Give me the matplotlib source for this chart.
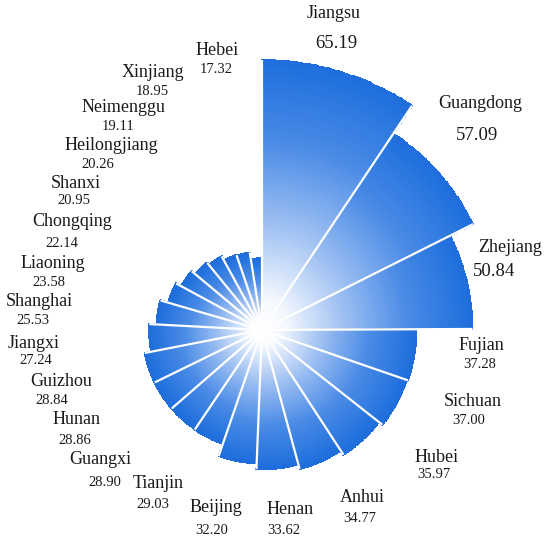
import numpy as np
import matplotlib.pyplot as plt
from matplotlib.colors import LinearSegmentedColormap

provinces = ['Jiangsu', 'Guangdong', 'Zhejiang', 'Fujian', 'Sichuan', 'Hubei', 'Anhui',
             'Henan', 'Beijing', 'Tianjin', 'Guangxi', 'Hunan', 'Guizhou', 'Jiangxi',
             'Shanghai', 'Liaoning', 'Chongqing', 'Shanxi', 'Heilongjiang', 'Neimenggu',
             'Xinjiang', 'Hebei']
values = [65.19, 57.09, 50.84, 37.28, 37.00, 35.97, 34.77, 33.62, 32.20, 29.03, 28.90,
          28.86, 28.84, 27.24, 25.53, 23.58, 22.14, 20.95, 20.26, 19.11, 18.95, 17.32]

# label positions in pixels (name x, name y, value x, value y)
label_pos = [(334, 14, 336, 43), (480, 104, 477, 135), (510, 248, 494, 272),
             (481, 345, 480, 365), (473, 401, 469, 421), (437, 458, 434, 474),
             (362, 497, 360, 518), (290, 509, 284, 530), (216, 507, 212, 530),
             (158, 484, 153, 504), (100, 459, 105, 482), (77, 420, 75, 440),
             (61, 381, 52, 401), (34, 343, 36, 361), (39, 302, 33, 321),
             (53, 264, 49, 282), (72, 222, 62, 244), (76, 183, 74, 200),
             (111, 145, 98, 164), (124, 108, 118, 127), (153, 73, 152, 92),
             (217, 50, 216, 69)]
big_values = ['Jiangsu', 'Guangdong', 'Zhejiang']

W, H = 550, 541
fig = plt.figure(figsize=(W / 100, H / 100), dpi=100)

# polar axes centred on the rose
cx, cy = 262, H - 330
rmax = 66
rad_px = rmax * 4.14
ax = fig.add_axes([(cx - rad_px) / W, (cy - rad_px) / H, 2 * rad_px / W, 2 * rad_px / H],
                  projection='polar')
ax.set_theta_zero_location('N')
ax.set_theta_direction(-1)
ax.set_ylim(0, rmax)
ax.set_axis_off()

cmap = LinearSegmentedColormap.from_list(
    'rose', [(0, '#ffffff'), (0.12, '#f4f8fe'), (0.4, '#9dbff2'),
             (0.7, '#4a8be6'), (1, '#1e6edc')])

vals = np.array(values)
widths = vals / vals.sum() * 2 * np.pi
lefts = np.concatenate([[0], np.cumsum(widths)[:-1]])

for left, w, v in zip(lefts, widths, vals):
    t = np.linspace(left, left + w, 60)
    r = np.linspace(0, v, 120)
    T, R = np.meshgrid(t, r)
    C = (R[:-1, :-1] + np.diff(r)[0] / 2) / v
    ax.pcolormesh(T, R, C, cmap=cmap, vmin=0, vmax=1, shading='flat',
                  edgecolors='face', linewidth=0.3)

# white separators between sectors
sep_len = np.maximum(vals, np.roll(vals, 1))
ax.vlines(lefts, 0, sep_len, colors='white', linewidth=1.6)

font = 'Liberation Serif'
for name, v, (nx, ny, vx, vy) in zip(provinces, values, label_pos):
    big = name in big_values
    fig.text(nx / W, 1 - ny / H, name, ha='center', va='center',
             fontsize=13, family=font, color='#1a1a1a')
    fig.text(vx / W, 1 - vy / H, f'{v:.2f}', ha='center', va='center',
             fontsize=13.5 if big else 10.5, family=font, color='#1a1a1a')

fig.savefig('out.png', dpi=100)
